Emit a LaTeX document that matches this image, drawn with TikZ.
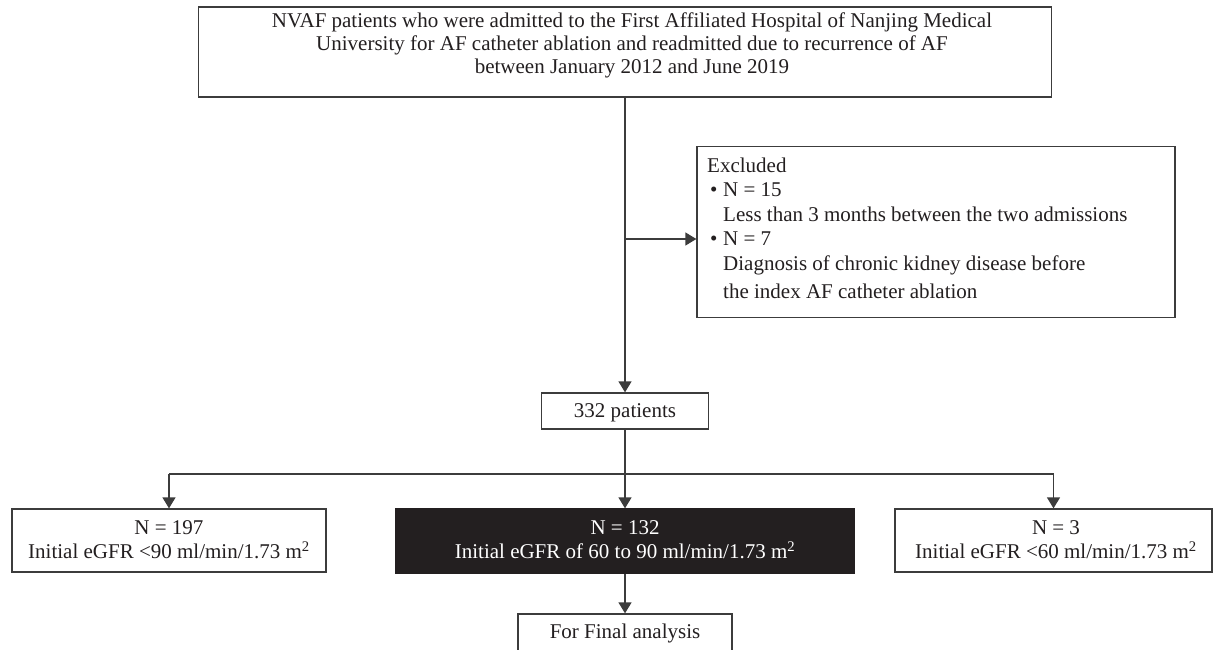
\documentclass[tikz,border=0pt]{standalone}
\usepackage{fontspec}
\setmainfont{Liberation Serif}
\usetikzlibrary{arrows.meta}
\definecolor{ink}{HTML}{231F20}
\definecolor{edge}{HTML}{3C3C3C}
\begin{document}
\begin{tikzpicture}[x=1pt,y=-1pt,
  box/.style={draw=edge, line width=1.3pt, fill=white, inner sep=0pt},
  darkbox/.style={draw=ink, fill=ink, line width=1.3pt, inner sep=0pt},
  txt/.style={inner sep=0pt, text=ink, font=\fontsize{21}{24.5}\selectfont},
  conn/.style={draw=edge, line width=1.3pt},
  arr/.style={conn, -{Triangle[length=11pt,width=13pt]}}]
\useasboundingbox (0,0) rectangle (1213,650);
% boxes
\node[box, minimum width=853, minimum height=90] (top) at (625,52) {};
\node[box, minimum width=478, minimum height=171] (excluded) at (936,232) {};
\node[box, minimum width=167, minimum height=36] (p332) at (625,411) {};
\node[box, minimum width=314, minimum height=63] (left) at (169,540.5) {};
\node[darkbox, minimum width=459, minimum height=64] (mid) at (625,541) {};
\node[box, minimum width=317, minimum height=63] (right) at (1053.5,540.5) {};
\node[box, minimum width=214, minimum height=51] (final) at (625,639.5) {};
% texts
\node[txt, anchor=north, align=center, font=\fontsize{21}{23}\selectfont] (toptext) at (632,12)
  {\rule{0pt}{15pt}NVAF patients who were admitted to the First Affiliated Hospital of Nanjing Medical\\
   University for AF catheter ablation and readmitted due to recurrence of AF\\
   between January 2012 and June 2019};
\node[txt, anchor=north west, align=left] (extext) at (707,157)
  {\rule{0pt}{15pt}Excluded\\
   \makebox[16pt][l]{\hspace{3pt}\textbullet}N = 15\\
   \hspace*{16pt}Less than 3 months between the two admissions\\
   \makebox[16pt][l]{\hspace{3pt}\textbullet}N = 7\\
   \hspace*{16pt}Diagnosis of chronic kidney disease before\\[4pt]
   \hspace*{16pt}the index AF catheter ablation};
\node[txt, anchor=base] (p332text) at (625,417) {332 patients};
\node[txt, anchor=north, align=center] (lefttext) at (169,519)
  {\rule{0pt}{15pt}N = 197\\Initial eGFR <90 ml/min/1.73 m\textsuperscript{2}};
\node[txt, anchor=north, align=center, text=white] (midtext) at (625,519)
  {\rule{0pt}{15pt}N = 132\\Initial eGFR of 60 to 90 ml/min/1.73 m\textsuperscript{2}};
\node[txt, anchor=north, align=center] (righttext) at (1056,519)
  {\rule{0pt}{15pt}N = 3\\Initial eGFR <60 ml/min/1.73 m\textsuperscript{2}};
\node[txt, anchor=base] (finaltext) at (625,638) {For Final analysis};
% connectors
\coordinate (ex) at (625,239);
\coordinate (split) at (625,474);
\draw[arr] (top.south) -- (p332.north);
\draw[arr] (ex) -- (ex -| excluded.west);
\draw[conn] (p332.south) -- (split);
\draw[conn] (left.north |- split) -- (right.north |- split);
\draw[arr] (left.north |- split) -- (left.north);
\draw[arr] (split) -- (mid.north);
\draw[arr] (right.north |- split) -- (right.north);
\draw[arr] (mid.south) -- (final.north);
\end{tikzpicture}
\end{document}
